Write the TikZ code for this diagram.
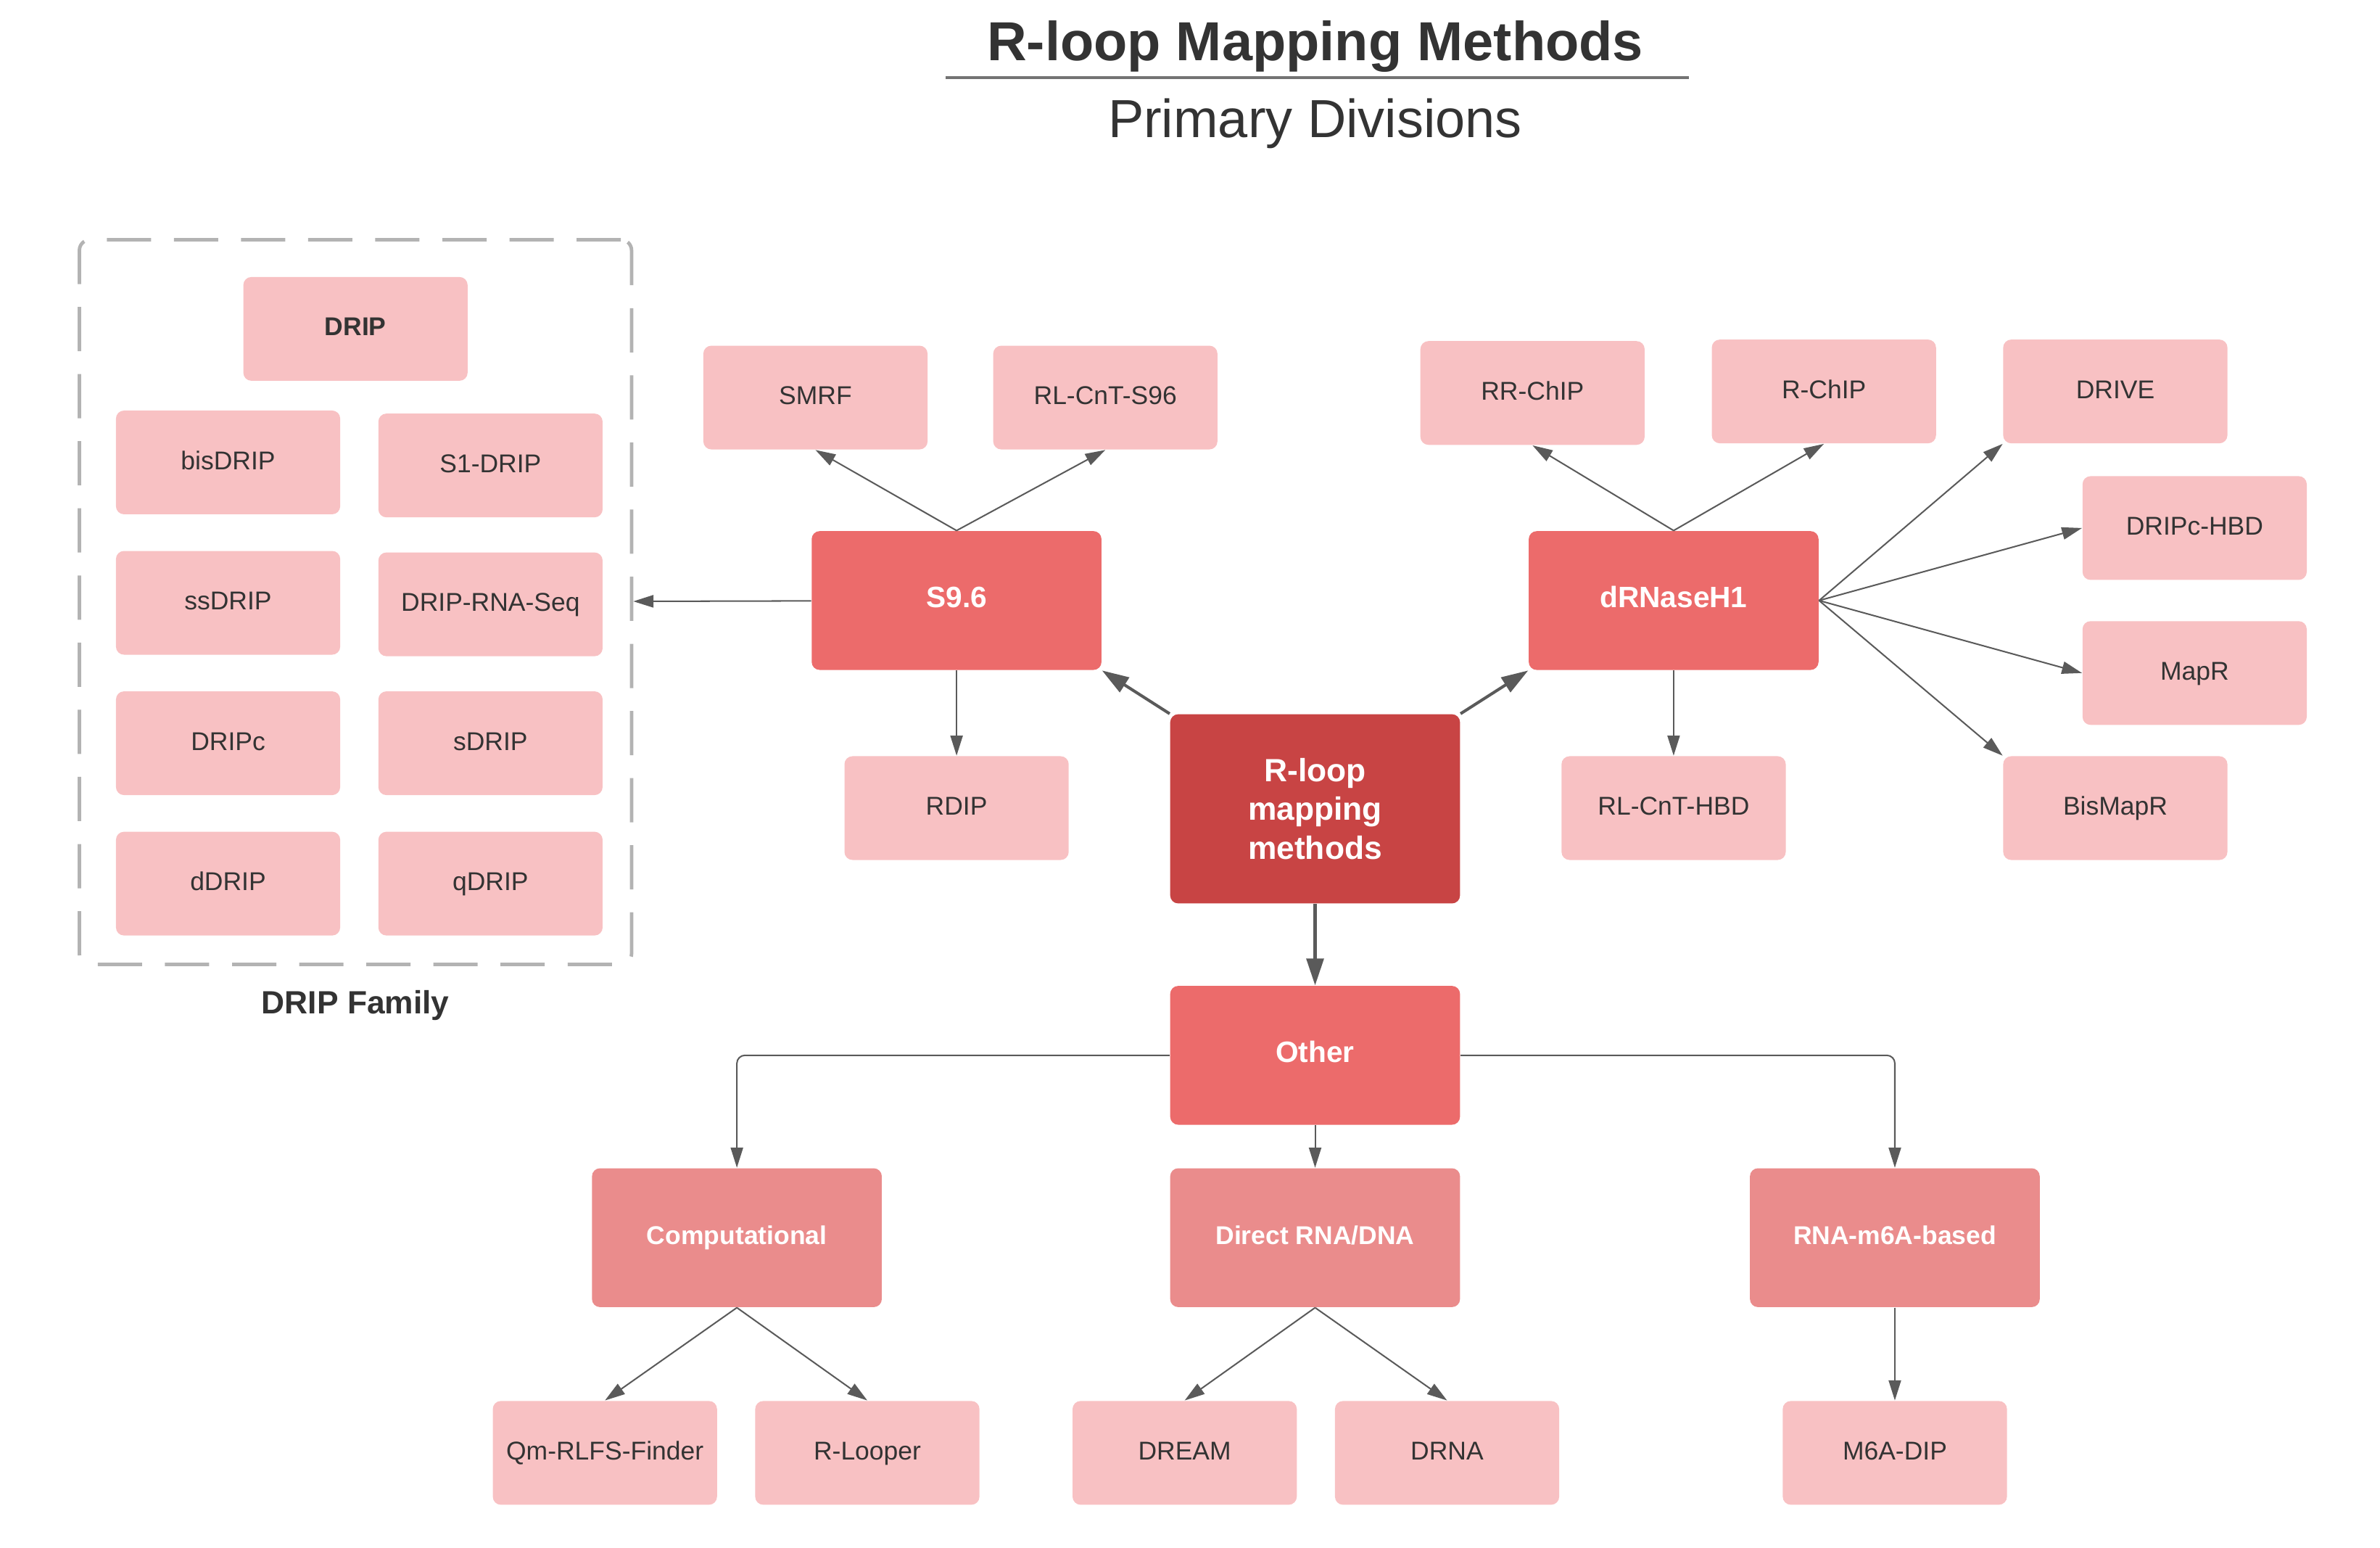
\documentclass[tikz,border=0pt]{standalone}
\usepackage{fontspec}
\setmainfont{Liberation Sans}
\usetikzlibrary{arrows.meta,graphs}

\definecolor{ink}{HTML}{333333}
\definecolor{linegray}{HTML}{5A5A5A}
\definecolor{pale}{HTML}{F8C1C3}
\definecolor{mid}{HTML}{EC6B6B}
\definecolor{deep}{HTML}{C84444}
\definecolor{soft}{HTML}{EA8C8C}
\definecolor{frame}{HTML}{B3B3B3}

\tikzset{
  leafbox/.style={fill=pale, rounded corners=3pt, inner sep=0pt,
    minimum width=2.94cm, minimum height=1.36cm, text=ink,
    text height=0.72em, text depth=0.2em,
    font=\fontsize{9.6}{11}\selectfont},
  branchbox/.style={fill=mid, rounded corners=3pt, inner sep=0pt,
    minimum width=3.8cm, minimum height=1.82cm, text=white,
    text height=0.72em, text depth=0.2em,
    font=\bfseries\fontsize{11}{13}\selectfont},
  groupbox/.style={branchbox, fill=soft, font=\bfseries\fontsize{9.6}{11}\selectfont},
  rootbox/.style={fill=deep, rounded corners=3pt, inner sep=0pt,
    minimum width=3.8cm, minimum height=2.48cm, text=white, align=center,
    font=\bfseries\fontsize{12}{14.5}\selectfont},
  wire/.style={draw=linegray, line width=0.55pt, >={Triangle[length=7.5pt,width=4.6pt]}},
  thick wire/.style={line width=1.1pt, >={Triangle[length=10pt,width=6.4pt]}},
  link/.style 2 args={to path={(\tikztostart.#1) -- (\tikztotarget.#2)}},
  elbow/.style={rounded corners=3pt, to path={(\tikztostart) -| (\tikztotarget.north)}},
}

\begin{document}
\begin{tikzpicture}[x=0.02cm, y=-0.02cm]
  \useasboundingbox (0,0) rectangle (1560,1014);

  % heading
  \node[anchor=base, text=ink, font=\bfseries\fontsize{20.5}{24}\selectfont] (title) at (862,39.5) {R-loop Mapping Methods};
  \draw[draw=linegray!85, line width=1.1pt] (620,51) -- (1107,51);
  \node[anchor=base, text=ink, font=\fontsize{20}{24}\selectfont] (sub) at (862,90) {Primary Divisions};

  % DRIP family
  \node[draw=frame, line width=1.3pt, dash pattern=on 0.58cm off 0.3cm, rounded corners=4pt,
    minimum width=7.24cm, minimum height=9.5cm] (dripfam) at (233,394.5) {};
  \node[text=ink, font=\bfseries\fontsize{12}{14}\selectfont] (famlabel) at (233,659) {DRIP Family};
    \node[leafbox] (drip) at (233,215.5) {\textbf{DRIP}};
    \node[leafbox] (bisdrip) at (149.5,303) {bisDRIP};
    \node[leafbox] (sonedrip) at (321.5,305) {S1-DRIP};
    \node[leafbox] (ssdrip) at (149.5,395) {ssDRIP};
    \node[leafbox] (driprna) at (321.5,396) {DRIP-RNA-Seq};
    \node[leafbox] (dripc) at (149.5,487) {DRIPc};
    \node[leafbox] (sdrip) at (321.5,487) {sDRIP};
    \node[leafbox] (ddrip) at (149.5,579) {dDRIP};
    \node[leafbox] (qdrip) at (321.5,579) {qDRIP};

  % main levels
  \node[rootbox] (rloop) at (862,530) {R-loop\\mapping\\methods};
  \node[branchbox] (s96) at (627,393.5) {S9.6};
  \node[branchbox] (drnase) at (1097,393.5) {dRNaseH1};
  \node[branchbox] (other) at (862,691.5) {Other};

  % S9.6 side
    \node[leafbox] (smrf) at (534.5,260.5) {SMRF};
    \node[leafbox] (rlcnts) at (724.5,260.5) {RL-CnT-S96};
    \node[leafbox] (rdip) at (627,529.5) {RDIP};

  % dRNaseH1 side
    \node[leafbox] (rrchip) at (1004.5,257.5) {RR-ChIP};
    \node[leafbox] (rchip) at (1195.5,256.5) {R-ChIP};
    \node[leafbox] (drive) at (1386.5,256.5) {DRIVE};
    \node[leafbox] (dripchbd) at (1438.5,346) {DRIPc-HBD};
    \node[leafbox] (mapr) at (1438.5,441) {MapR};
    \node[leafbox] (bismapr) at (1386.5,529.5) {BisMapR};
    \node[leafbox] (rlcnthbd) at (1097,529.5) {RL-CnT-HBD};

  % other side
  \node[groupbox] (comp) at (483,811) {Computational};
  \node[groupbox] (direct) at (862,811) {Direct RNA/DNA};
  \node[groupbox] (rnamod) at (1242,811) {RNA-m6A-based};
    \node[leafbox] (qmrlfs) at (396.5,952) {Qm-RLFS-Finder};
    \node[leafbox] (rlooper) at (568.5,952) {R-Looper};
    \node[leafbox] (dream) at (776.5,952) {DREAM};
    \node[leafbox] (drna) at (948.5,952) {DRNA};
    \node[leafbox] (mdip) at (1242,952) {M6A-DIP};

  \graph[use existing nodes, edges={wire}] {
    rloop ->[thick wire, link={north west}{south east}] s96;
    rloop ->[thick wire, link={north east}{south west}] drnase;
    rloop ->[thick wire, link={south}{north}] other;
    s96 -> dripfam;
    s96 ->[link={north}{south}] {smrf, rlcnts};
    s96 ->[link={south}{north}] rdip;
    drnase ->[link={north}{south}] {rrchip, rchip};
    drnase ->[link={south}{north}] rlcnthbd;
    drnase ->[link={east}{south west}] drive;
    drnase ->[link={east}{west}] {dripchbd, mapr};
    drnase ->[link={east}{north west}] bismapr;
    other ->[elbow] {comp, rnamod};
    other ->[link={south}{north}] direct;
    comp ->[link={south}{north}] {qmrlfs, rlooper};
    direct ->[link={south}{north}] {dream, drna};
    rnamod ->[link={south}{north}] mdip;
  };
\end{tikzpicture}
\end{document}
